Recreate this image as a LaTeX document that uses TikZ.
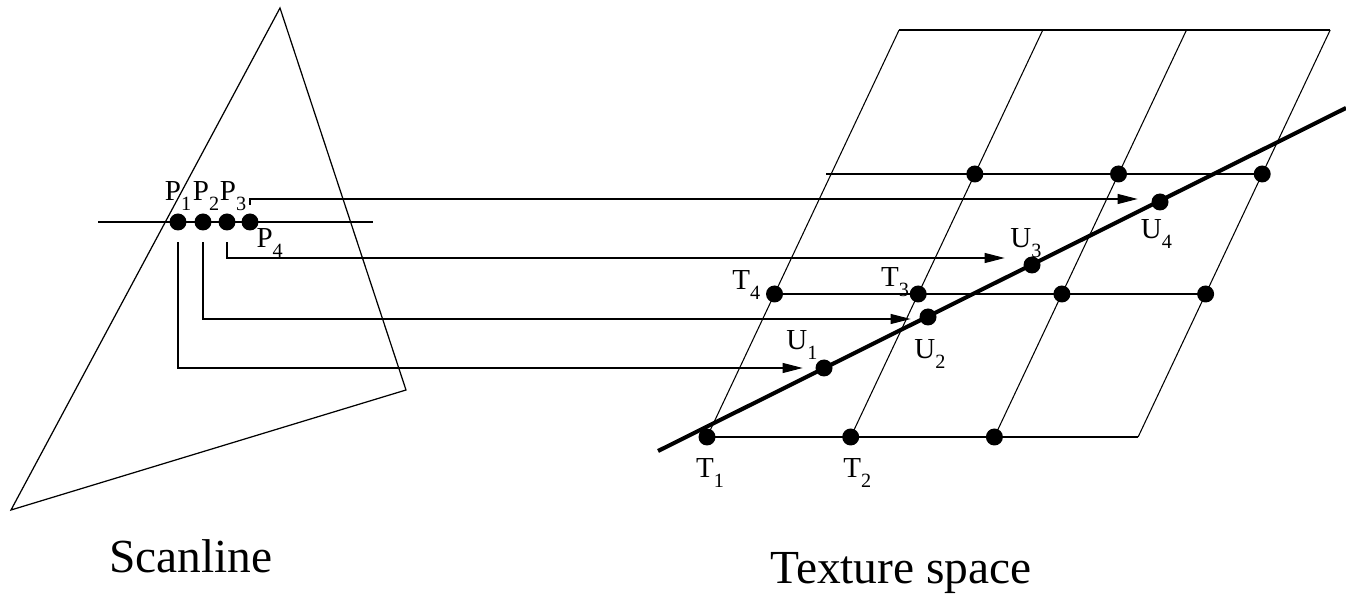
\documentclass[tikz,border=0pt]{standalone}
\usepackage{fontspec}
\setmainfont{Liberation Serif}
\usetikzlibrary{positioning,arrows.meta}
\newcommand{\lbl}[2]{#1\raisebox{-0.2cm}{\fontsize{11.5}{13}\selectfont #2}}

\begin{document}
\begin{tikzpicture}[
    x=0.02cm, y=-0.02cm,
    >={Triangle[length=0.4cm,width=0.2cm]},
    dot/.style={circle, fill=black, inner sep=0pt, minimum size=0.34cm},
    lab/.style={inner sep=0pt, font=\fontsize{16.5}{19}\selectfont},
    title/.style={font=\fontsize{27}{32}\selectfont, anchor=base},
    edge/.style={line width=0.6pt, draw=black},
    flow/.style={->, line width=0.6pt, shorten <=0.23cm},
    ray/.style={line width=2.3pt, draw=black}
]
  \useasboundingbox (0,0) rectangle (1346,597);

  % Scanline side
  \draw[edge, line width=0.7pt] (280,8) -- (406,390) -- (11,510) -- cycle;
  \draw[line width=1.1pt] (98,222) -- (373,222);

  % Texture grid
  \foreach \x in {707,850.7,994.4,1138.1}
    \draw[edge] (\x,437) -- ++(192.1,-407);
  \draw[edge] (707,437) -- (1138.1,437);
  \draw[edge] (775,294) -- (1206,294);
  \draw[edge] (826,174) -- (1262,174);
  \draw[edge] (899,30) -- (1330,30);

  \coordinate (ray0) at (658,451);
  \coordinate (ray1) at (1346,108);
  \draw[ray] (ray0) -- (ray1);

  % Sample points
  \node[dot] (p1) at (178,222) {};
  \node[dot] (p2) at (203,222) {};
  \node[dot] (p3) at (227,222) {};
  \node[dot] (p4) at (250,222) {};

  \node[dot] (t1) at (707,437) {};
  \node[dot] (t2) at (850.7,437) {};
  \node[dot] (g02) at (994.4,437) {};
  \node[dot] (t4) at (774.5,294) {};
  \node[dot] (t3) at (918.2,294) {};
  \node[dot] (g12) at (1061.9,294) {};
  \node[dot] (g13) at (1205.6,294) {};
  \node[dot] (g21) at (974.8,174) {};
  \node[dot] (g22) at (1118.5,174) {};
  \node[dot] (g23) at (1262.2,174) {};

  \node[dot] (u1) at (824,368) {};
  \node[dot] (u2) at (928,317) {};
  \node[dot] (u3) at (1032,265) {};
  \node[dot] (u4) at (1160,202) {};

  % Mapping arrows
  \draw[flow] (p1.south) |- ([xshift=-0.25cm]u1.west);
  \draw[flow] (p2.south) |- ([xshift=-0.17cm,yshift=-0.04cm]u2.west);
  \draw[flow] (p3.south) |- ([xshift=-0.37cm,yshift=0.14cm]u3.west);
  \draw[flow, shorten <=0.17cm] (p4.north) |- ([xshift=-0.27cm,yshift=0.06cm]u4.west);

  % Labels
  \node[lab, above=0.05cm of p1, xshift=0cm] (lp1) {\lbl{P}{1}};
  \node[lab, above=0.05cm of p2, xshift=0.06cm] (lp2) {\lbl{P}{2}};
  \node[lab, above=0.05cm of p3, xshift=0.12cm] (lp3) {\lbl{P}{3}};
  \node[lab, below right=0cm and 0cm of p4] (lp4) {\lbl{P}{4}};
  \node[lab, below=0.25cm of t1, xshift=0.06cm] (lt1) {\lbl{T}{1}};
  \node[lab, below=0.25cm of t2, xshift=0.13cm] (lt2) {\lbl{T}{2}};
  \node[lab, left=0cm of t3, yshift=0.24cm] (lt3) {\lbl{T}{3}};
  \node[lab, left=0.1cm of t4, yshift=0.18cm] (lt4) {\lbl{T}{4}};
  \node[lab, above left=0.03cm and 0cm of u1] (lu1) {\lbl{U}{1}};
  \node[lab, below=0.27cm of u2, xshift=0.04cm] (lu2) {\lbl{U}{2}};
  \node[lab, above=-0.03cm of u3, xshift=-0.12cm] (lu3) {\lbl{U}{3}};
  \node[lab, below=0.17cm of u4, xshift=-0.07cm] (lu4) {\lbl{U}{4}};

  \node[title] (scan) at (191,573) {Scanline};
  \node[title] (tex) at (901,584) {Texture space};
\end{tikzpicture}
\end{document}
